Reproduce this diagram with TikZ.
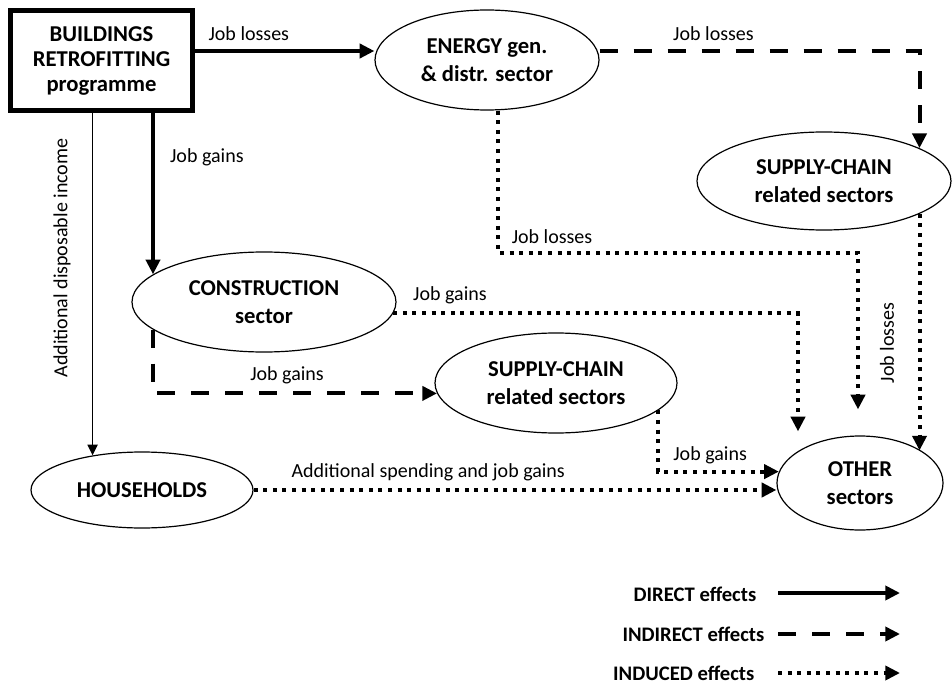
\documentclass[tikz,border=0pt]{standalone}
\usepackage{fontspec}
\setmainfont{Carlito}
\usetikzlibrary{shapes.geometric,arrows.meta,positioning}

\begin{document}
\begin{tikzpicture}[x=0.75pt, y=-0.75pt,
		every node/.style={font=\fontsize{15}{18}\selectfont},
		programa/.style={draw, line width=3.75pt, minimum width=136.5pt, minimum height=75pt, inner sep=0pt, align=center, font=\fontsize{17}{19}\selectfont\bfseries},
		sector/.style={ellipse, draw, line width=0.9pt, inner sep=0pt, align=center, font=\fontsize{17}{20.5}\selectfont\bfseries},
		directo/.style={line width=3pt, -{Triangle[length=11pt, width=10.5pt]}},
		renta/.style={line width=1.2pt, -{Triangle[length=8pt, width=7.5pt]}},
		indirecto/.style={line width=3pt, dash pattern=on 13.5pt off 12pt, -{Triangle[length=11pt, width=10.5pt]}},
		inducido/.style={line width=3pt, dash pattern=on 3pt off 4.2pt, -{Triangle[length=11pt, width=10.5pt]}},
		leyenda/.style={anchor=east, font=\fontsize{15.5}{18}\selectfont\bfseries}]
	\useasboundingbox (0,0) rectangle (952,684);
	\node[programa] (prog) at (101.5,61) {BUILDINGS\\RETROFITTING\\programme};
	\node[sector, minimum width=168pt, minimum height=75pt] (energia) at (487,60) {ENERGY gen.\\\& distr. sector};
	\node[sector, minimum width=190.5pt, minimum height=73.5pt] (cadenaA) at (824,181) {SUPPLY-CHAIN\\related sectors};
	\node[sector, minimum width=198pt, minimum height=75pt] (construccion) at (264,302) {CONSTRUCTION\\sector};
	\node[sector, minimum width=181.5pt, minimum height=75pt] (cadenaB) at (556,383) {SUPPLY-CHAIN\\related sectors};
	\node[sector, minimum width=166.5pt, minimum height=57pt] (hogares) at (142,490) {HOUSEHOLDS};
	\node[sector, minimum width=124.5pt, minimum height=70.5pt] (otros) at (860,483) {OTHER\\sectors};
	% efectos directos
	\draw[directo] ([yshift=7.5pt]prog.east) -- ([yshift=7.5pt]prog.east -| energia.west) node[pos=0.3, above=3pt] (e1) {Job losses};
	\draw[directo] (prog.south -| construccion.166) -- (construccion.166) node[pos=0.27, right=8pt] (e2) {Job gains};
	\draw[renta] (prog.south -| hogares.145) -- (hogares.145);
	\node[rotate=90] (e3) at (62,258) {Additional disposable income};
	% efectos indirectos
	\draw[indirecto] ([yshift=6.75pt]energia.east) -| (cadenaA.19) node[pos=0.178, above=3pt] (e4) {Job losses};
	\draw[indirecto] (construccion.194) |- (cadenaB.185) node[pos=0.736, above=2pt] (e5) {Job gains};
	% efectos inducidos
	\draw[inducido] ([xshift=8.25pt]energia.south) -- ++(0,142) -| ([xshift=-1.5pt, yshift=19.5pt]otros.north) node[pos=0.075, above=2pt] (e6) {Job losses};
	\draw[inducido] (construccion.-5) -| ([xshift=-46.5pt, yshift=3pt]otros.north) node[pos=0.07, above=2pt] (e7) {Job gains};
	\draw[inducido] (cadenaA.-19) -- (cadenaA.-19 |- otros.28);
	\node[rotate=90] (e8) at (887,343) {Job losses};
	\draw[inducido] (cadenaB.-15) |- (otros.172) node[pos=0.715, above=1pt] (e9) {Job gains};
	\draw[inducido] (hogares.east) -- (hogares.east -| otros.west) node[pos=0.334, above=2pt] (e10) {Additional spending and job gains};
	% leyenda
	\node[leyenda] (ldirecto) at (761,594) {DIRECT effects};
	\node[leyenda] (lindirecto) at (769,634) {INDIRECT effects};
	\node[leyenda] (linducido) at (759,673) {INDUCED effects};
	\coordinate (d1) at (778,593);
	\coordinate (d2) at (900,593);
	\coordinate (i1) at (778,634);
	\coordinate (i2) at (900,634);
	\coordinate (u1) at (778,673);
	\coordinate (u2) at (900,673);
	\draw[directo] (d1) -- (d2);
	\draw[indirecto] (i1) -- (i2);
	\draw[inducido] (u1) -- (u2);
\end{tikzpicture}
\end{document}
